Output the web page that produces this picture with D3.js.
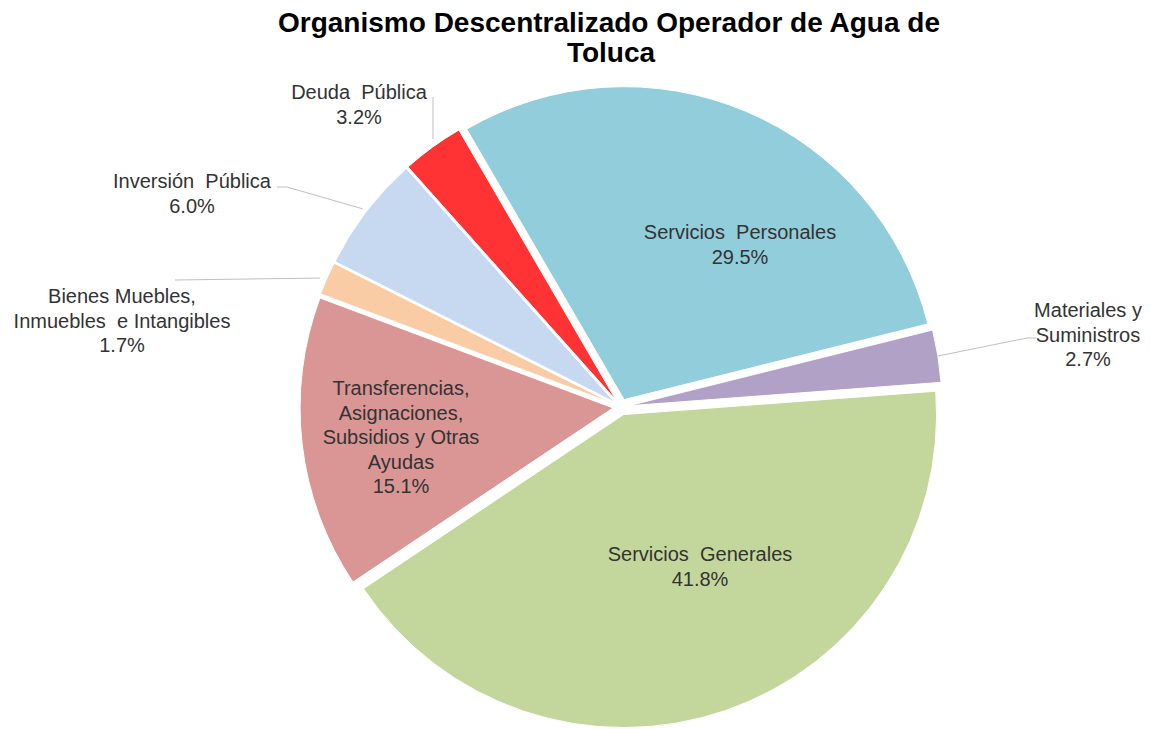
<!DOCTYPE html>
<html><head><meta charset="utf-8">
<script src="https://cdn.jsdelivr.net/npm/d3@7"></script>
<style>body{margin:0;background:#fff;} svg{display:block;} text{white-space:pre;}</style>
</head><body>
<svg id="c" width="1150" height="729"></svg>
<script>
const categories = ["Servicios Personales","Materiales y Suministros","Servicios Generales","Transferencias, Asignaciones, Subsidios y Otras Ayudas","Bienes Muebles, Inmuebles e Intangibles","Inversión Pública","Deuda Pública"];
const values = [29.5, 2.7, 41.8, 15.1, 1.7, 6.0, 3.2];
const labelLines = [
  ["Servicios  Personales"],
  ["Materiales y","Suministros"],
  ["Servicios  Generales"],
  ["Transferencias,","Asignaciones,","Subsidios y Otras","Ayudas"],
  ["Bienes Muebles,","Inmuebles  e Intangibles"],
  ["Inversión  Pública"],
  ["Deuda  Pública"]
];
const colors = ["#92CDDC","#B2A1C7","#C3D69B","#D99694","#F9CCA6","#C6D9F1","#FF3333"];
const titleLines = ["Organismo Descentralizado Operador de Agua de","Toluca"];

const svg = d3.select("#c");
const cx = 621, cy = 407, R = 313, explode = 8;
const startDeg = -30.2;
const font = "Liberation Sans, Arial, sans-serif";

const tg = svg.append("g");
tg.append("text").attr("x",609).attr("y",32).attr("text-anchor","middle")
  .attr("font-family",font).attr("font-weight","bold").attr("font-size",28)
  .attr("textLength",662).attr("lengthAdjust","spacingAndGlyphs")
  .attr("fill","#000").text(titleLines[0]);
tg.append("text").attr("x",611).attr("y",62).attr("text-anchor","middle")
  .attr("font-family",font).attr("font-weight","bold").attr("font-size",28)
  .attr("fill","#000").text(titleLines[1]);

const pie = d3.pie().sort(null).value(d=>d)
  .startAngle(startDeg*Math.PI/180).endAngle((startDeg+360)*Math.PI/180);
const arcs = pie(values);
const arc = d3.arc().innerRadius(0).outerRadius(R);

const g = svg.append("g").attr("transform",`translate(${cx},${cy})`);
const off = a => { const m=(a.startAngle+a.endAngle)/2; return [Math.sin(m)*explode, -Math.cos(m)*explode]; };

g.selectAll("path").data(arcs).join("path")
  .attr("d", arc)
  .attr("transform", d=>{const o=off(d); return `translate(${o[0]},${o[1]})`;})
  .attr("fill",(d,i)=>colors[i])
  .attr("stroke","#fff").attr("stroke-width",1);

const lh = 24.5;
// inside label anchor: [x, first baseline]
const insideLayout = {0:[740,239], 2:[700,561], 3:[401,395]};
// outside labels: label centre/baseline, knee points, and leader end on slice (fraction of angle, radius factor)
const outsideLayout = {
  1: {lab:[1088,317], pts:[[1036,338],[1027,338]], frac:0.5, rf:1.0},
  4: {lab:[122,303], pts:[[175,280]], frac:0.43, rf:1.02},
  5: {lab:[192,188], pts:[[277,187],[287,187]], frac:0.5, rf:1.015},
  6: {lab:[359,99], pts:[[433,97]], frac:0.58, rf:1.02}
};
const lblG = svg.append("g").attr("font-family",font).attr("font-size",20).attr("fill","#333");

arcs.forEach((a,i)=>{
  const o = off(a);
  const lines = labelLines[i].concat([d3.format(".1f")(values[i])+"%"]);
  let x, y0;
  if (insideLayout[i]) {
    [x, y0] = insideLayout[i];
  } else {
    const L = outsideLayout[i];
    [x, y0] = L.lab;
    const ang = a.startAngle + L.frac*(a.endAngle - a.startAngle);
    const rr = R*L.rf;
    const ex = cx + o[0] + Math.sin(ang)*rr, ey = cy + o[1] - Math.cos(ang)*rr;
    const pts = L.pts.concat([[ex,ey]]);
    lblG.append("path").attr("d", d3.line()(pts)).attr("fill","none")
      .attr("stroke","#BFBFBF").attr("stroke-width",1);
  }
  lblG.append("text").attr("x",x).attr("y",y0).attr("text-anchor","middle")
    .selectAll("tspan").data(lines).join("tspan")
    .attr("x",x).attr("dy",(d,j)=> j===0?0:lh).text(d=>d);
});
</script>
</body></html>
